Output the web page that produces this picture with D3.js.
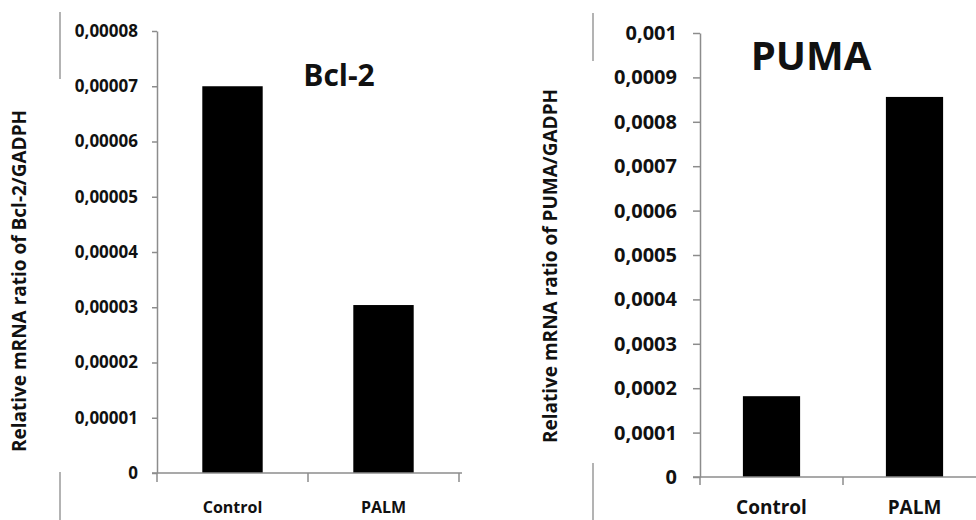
<!DOCTYPE html>
<html>
<head>
<meta charset="utf-8">
<script src="https://cdn.jsdelivr.net/npm/d3@7"></script>
<style>
  html, body { margin: 0; padding: 0; background: #fff; }
  svg { display: block; }
  text { font-family: "Open Sans", "DejaVu Sans", sans-serif; font-weight: 700; fill: #111; }
</style>
</head>
<body>
<svg id="chart" width="976" height="520"></svg>
<script>
// ---- data ----
const categories = ["Control", "PALM"];

const bclTitle = "Bcl-2";
const bclYLabel = "Relative mRNA ratio of Bcl-2/GADPH";
const bclValues = [0.00007, 0.0000304];
const bclTickValues = [0, 0.00001, 0.00002, 0.00003, 0.00004, 0.00005, 0.00006, 0.00007, 0.00008];
const bclTickLabels = ["0", "0,00001", "0,00002", "0,00003", "0,00004", "0,00005", "0,00006", "0,00007", "0,00008"];

const pumaTitle = "PUMA";
const pumaYLabel = "Relative mRNA ratio of PUMA/GADPH";
const pumaValues = [0.000182, 0.000856];
const pumaTickValues = [0, 0.0001, 0.0002, 0.0003, 0.0004, 0.0005, 0.0006, 0.0007, 0.0008, 0.0009, 0.001];
const pumaTickLabels = ["0", "0,0001", "0,0002", "0,0003", "0,0004", "0,0005", "0,0006", "0,0007", "0,0008", "0,0009", "0,001"];

// ---- drawing ----
const svg = d3.select("#chart");
const axisColor = "#8c8c8c";

function panel(cfg) {
  const g = svg.append("g");
  const y = d3.scaleLinear().domain([0, d3.max(cfg.tickValues)]).range([cfg.bottom, cfg.top]);
  const x = d3.scaleBand().domain(categories).range([cfg.left, cfg.right])
    .paddingInner(0.6).paddingOuter(0.3);

  // bars
  g.selectAll("rect.bar").data(cfg.values).enter().append("rect")
    .attr("class", "bar")
    .attr("x", (d, i) => x(categories[i]))
    .attr("width", x.bandwidth())
    .attr("y", d => y(d))
    .attr("height", d => y(0) - y(d))
    .attr("fill", "#000");

  // y axis
  const yAxis = d3.axisLeft(y)
    .tickValues(cfg.tickValues)
    .tickFormat((d, i) => cfg.tickLabels[i])
    .tickSize(cfg.tickSize)
    .tickSizeOuter(0)
    .tickPadding(cfg.tickPad);
  const ya = g.append("g").attr("transform", `translate(${cfg.left},0)`).call(yAxis);
  ya.select(".domain").attr("stroke", axisColor).attr("stroke-width", 1.5);
  ya.selectAll(".tick line").attr("stroke", axisColor).attr("stroke-width", 1.5);
  ya.selectAll(".tick text")
    .style("font-family", '"Open Sans", sans-serif')
    .style("font-weight", 700)
    .style("font-size", cfg.tickFont + "px")
    .attr("fill", "#111");

  // x axis line
  g.append("line")
    .attr("x1", cfg.left - cfg.tickSize).attr("x2", cfg.axisEnd)
    .attr("y1", y(0)).attr("y2", y(0))
    .attr("stroke", axisColor).attr("stroke-width", 1.5);
  // category boundary ticks
  const bounds = d3.range(categories.length + 1).map(i => cfg.left + i * x.step());
  g.selectAll("line.xt").data(bounds).enter().append("line")
    .attr("class", "xt")
    .attr("x1", d => d).attr("x2", d => d)
    .attr("y1", y(0)).attr("y2", y(0) + cfg.xTick)
    .attr("stroke", axisColor).attr("stroke-width", 1.5);
  // category labels
  g.selectAll("text.cat").data(categories).enter().append("text")
    .attr("class", "cat")
    .attr("x", d => x(d) + x.bandwidth() / 2)
    .attr("y", cfg.catY)
    .attr("text-anchor", "middle")
    .style("font-size", cfg.catFont + "px")
    .text(d => d);

  // title
  g.append("text")
    .attr("x", cfg.titleX).attr("y", cfg.titleY)
    .attr("text-anchor", "middle")
    .style("font-size", cfg.titleFont + "px")
    .text(cfg.title);

  // y label
  g.append("text")
    .attr("transform", `translate(${cfg.ylabX},${cfg.ylabY}) rotate(-90)`)
    .attr("text-anchor", "middle")
    .style("font-size", cfg.ylabFont + "px")
    .style("font-weight", 700)
    .text(cfg.ylabel);

  // border remnants
  cfg.borders.forEach(b => {
    g.append("line")
      .attr("x1", b[0]).attr("x2", b[0]).attr("y1", b[1]).attr("y2", b[2])
      .attr("stroke", "#9a9a9a").attr("stroke-width", 1.5);
  });
}

panel({
  values: bclValues, tickValues: bclTickValues, tickLabels: bclTickLabels,
  title: bclTitle, ylabel: bclYLabel,
  left: 157, right: 459, top: 31, bottom: 473, axisEnd: 462,
  tickSize: 5, tickPad: 14, tickFont: 17, xTick: 9,
  catY: 513, catFont: 16,
  titleX: 339, titleY: 86, titleFont: 30,
  ylabX: 26, ylabY: 281, ylabFont: 19,
  borders: [[60, 12, 79], [60, 472, 520]]
});

panel({
  values: pumaValues, tickValues: pumaTickValues, tickLabels: pumaTickLabels,
  title: pumaTitle, ylabel: pumaYLabel,
  left: 700, right: 986, top: 33, bottom: 477, axisEnd: 976,
  tickSize: 7, tickPad: 16, tickFont: 20, xTick: 8,
  catY: 514, catFont: 19,
  titleX: 811, titleY: 70, titleFont: 40,
  ylabX: 557, ylabY: 266, ylabFont: 19,
  borders: [[593, 13, 61], [593, 463, 520]]
});
</script>
</body>
</html>
